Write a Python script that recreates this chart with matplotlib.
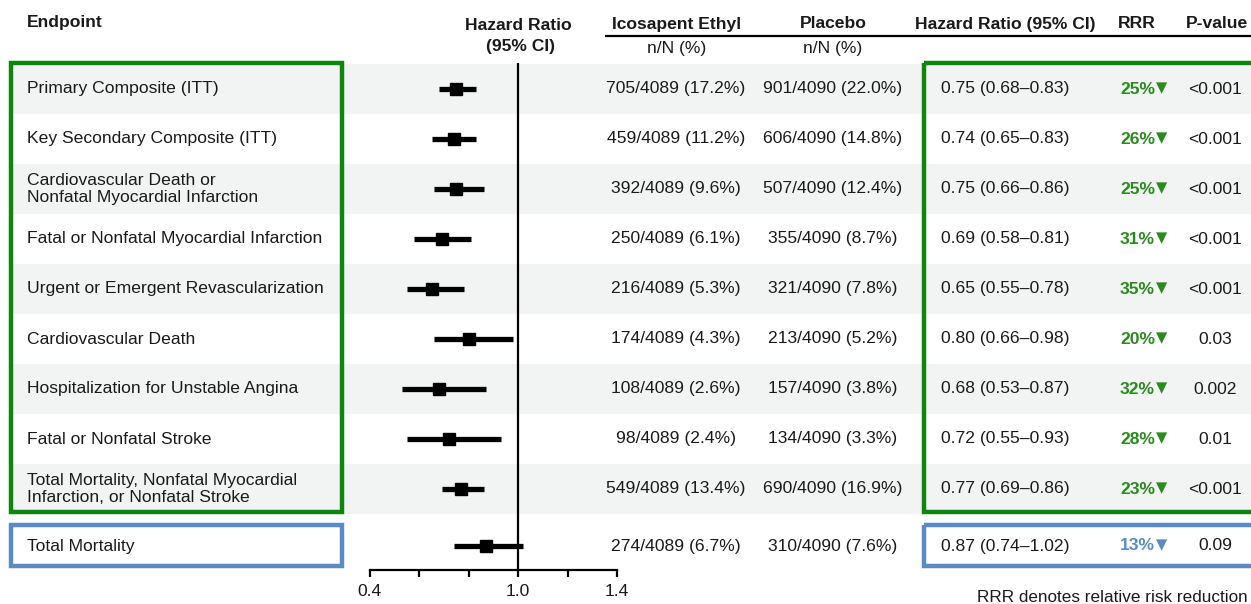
import matplotlib
matplotlib.use("Agg")
import matplotlib.pyplot as plt
from matplotlib.patches import Rectangle

plt.rcParams['font.family'] = ['Liberation Sans', 'DejaVu Sans']

# ---------------- data ----------------
endpoints = [
    "Primary Composite (ITT)",
    "Key Secondary Composite (ITT)",
    "Cardiovascular Death or\nNonfatal Myocardial Infarction",
    "Fatal or Nonfatal Myocardial Infarction",
    "Urgent or Emergent Revascularization",
    "Cardiovascular Death",
    "Hospitalization for Unstable Angina",
    "Fatal or Nonfatal Stroke",
    "Total Mortality, Nonfatal Myocardial\nInfarction, or Nonfatal Stroke",
    "Total Mortality",
]
ice_events = [705, 459, 392, 250, 216, 174, 108, 98, 549, 274]
ice_total = 4089
ice_pct = [17.2, 11.2, 9.6, 6.1, 5.3, 4.3, 2.6, 2.4, 13.4, 6.7]
pla_events = [901, 606, 507, 355, 321, 213, 157, 134, 690, 310]
pla_total = 4090
pla_pct = [22.0, 14.8, 12.4, 8.7, 7.8, 5.2, 3.8, 3.3, 16.9, 7.6]
hr = [0.75, 0.74, 0.75, 0.69, 0.65, 0.80, 0.68, 0.72, 0.77, 0.87]
hr_lo = [0.68, 0.65, 0.66, 0.58, 0.55, 0.66, 0.53, 0.55, 0.69, 0.74]
hr_hi = [0.83, 0.83, 0.86, 0.81, 0.78, 0.98, 0.87, 0.93, 0.86, 1.02]
rrr = [25, 26, 25, 31, 35, 20, 32, 28, 23, 13]
pvals = ["<0.001", "<0.001", "<0.001", "<0.001", "<0.001", "0.03", "0.002", "0.01", "<0.001", "0.09"]
x_ticks = [0.4, 0.6, 0.8, 1.0, 1.2, 1.4]
x_ticklabels = ["0.4", "", "", "1.0", "", "1.4"]

# ---------------- styles ----------------
W, H = 1251, 604
FS = 12.6
TXT = "#1a1a1a"
SHADE = "#f2f4f3"
GREEN_BOX = "#0f850f"
GREEN_TXT = "#2a8a1e"
BLUE = "#5b8bc7"

fig = plt.figure(figsize=(W / 100, H / 100), dpi=100)
bg = fig.add_axes([0, 0, 1, 1])
bg.set_xlim(0, W)
bg.set_ylim(H, 0)
bg.axis("off")

# layout of rows (pixel positions)
n_main = 9
row_h = 50
row_top0 = 64
centers = [row_top0 + row_h * (i + 0.5) for i in range(n_main)] + [546]

# shading
for i in range(n_main):
    if i % 2 == 0:
        bg.add_patch(Rectangle((10, row_top0 + row_h * i), W, row_h,
                               facecolor=SHADE, edgecolor="none", zorder=0))

# boxes
lw_box = 3.2
bg.add_patch(Rectangle((10.5, 63), 331.5, 448.5, fill=False, edgecolor=GREEN_BOX, lw=lw_box, zorder=3))
bg.add_patch(Rectangle((924, 63), 340, 448.5, fill=False, edgecolor=GREEN_BOX, lw=lw_box, zorder=3))
bg.add_patch(Rectangle((10.5, 524.5), 331.5, 41.5, fill=False, edgecolor=BLUE, lw=lw_box, zorder=3))
bg.add_patch(Rectangle((924, 524.5), 340, 41.5, fill=False, edgecolor=BLUE, lw=lw_box, zorder=3))

# headers
hkw = dict(fontsize=FS, fontweight="bold", color=TXT, va="center")
bg.text(27, 22, "Endpoint", ha="left", **hkw)
bg.text(518, 25, "Hazard Ratio", ha="center", **hkw)
bg.text(520, 46, "(95% CI)", ha="center", **hkw)
bg.text(677, 24, "Icosapent Ethyl", ha="center", **hkw)
bg.text(833, 24, "Placebo", ha="center", **hkw)
bg.text(1005, 24, "Hazard Ratio (95% CI)", ha="center", **hkw)
bg.text(1137, 24, "RRR", ha="center", **hkw)
bg.text(1217, 24, "P-value", ha="center", **hkw)
bg.plot([605, W], [36, 36], color="black", lw=1.6, solid_capstyle="butt")
bg.text(677, 49, "n/N (%)", ha="center", va="center", fontsize=FS, color=TXT)
bg.text(833, 49, "n/N (%)", ha="center", va="center", fontsize=FS, color=TXT)

# rows
for i, y in enumerate(centers):
    bg.text(27, y, endpoints[i], ha="left", va="center", fontsize=FS, color=TXT,
            linespacing=1.2, zorder=4)
    bg.text(676, y, f"{ice_events[i]}/{ice_total} ({ice_pct[i]:.1f}%)", ha="center",
            va="center", fontsize=FS, color=TXT, zorder=4)
    bg.text(833, y, f"{pla_events[i]}/{pla_total} ({pla_pct[i]:.1f}%)", ha="center",
            va="center", fontsize=FS, color=TXT, zorder=4)
    bg.text(941, y, f"{hr[i]:.2f} ({hr_lo[i]:.2f}\u2013{hr_hi[i]:.2f})", ha="left",
            va="center", fontsize=FS, color=TXT, zorder=4)
    col = BLUE if i == len(centers) - 1 else GREEN_TXT
    bg.text(1155, y, f"{rrr[i]}%", ha="right", va="center", fontsize=FS,
            fontweight="bold", color=col, zorder=4)
    bg.text(1156, y - 1, "\u25BC", ha="left", va="center", fontsize=10.5,
            family=["DejaVu Sans"], color=col, zorder=4)
    bg.text(1215, y, pvals[i], ha="center", va="center", fontsize=FS, color=TXT, zorder=4)

bg.text(1248, 597, "RRR denotes relative risk reduction", ha="right", va="center",
        fontsize=12.3, color=TXT)

# forest axes
x0, x1 = 370, 617
ybot = 570
ax = fig.add_axes([x0 / W, (H - ybot) / H, (x1 - x0) / W, ybot / H])
ax.patch.set_alpha(0)
ax.set_xlim(0.4, 1.4)
ax.set_ylim(ybot, 0)
for s in ("left", "right", "top"):
    ax.spines[s].set_visible(False)
ax.spines["bottom"].set_linewidth(1.6)
ax.set_yticks([])
ax.set_xticks(x_ticks)
ax.set_xticklabels(x_ticklabels, fontsize=FS, color=TXT)
ax.tick_params(axis="x", direction="out", length=5, width=1.6, pad=5)
ax.vlines(1.0, 63, ybot, color="black", lw=1.6, zorder=2)
ax.hlines(centers, hr_lo, hr_hi, color="black", lw=3.8, zorder=3)
ax.plot(hr, centers, "s", color="black", markersize=8, zorder=4)

fig.savefig("out.png", dpi=100)
